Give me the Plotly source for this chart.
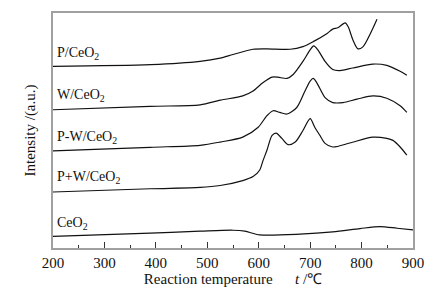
import plotly.graph_objects as go

# Temperature (°C) and intensity (a.u.)
t_p = [200, 390, 486, 525, 550, 589, 616, 661, 686, 706, 733, 744, 754, 768, 774, 783, 793, 803, 816, 830]
i_p = [184, 185.7, 189, 192.3, 196, 201.3, 201.7, 201.3, 204, 209, 217.3, 221.7, 223, 228, 224, 211, 201.7, 204, 216, 231.7]

t_w = [200, 389, 486, 525, 569, 589, 608, 626, 637, 655, 667, 686, 700, 707, 715, 729, 744, 758, 783, 822, 849, 875, 888]
i_w = [140, 143.5, 145, 149.7, 154, 159, 167.3, 173, 173, 171.7, 175.7, 189, 200.7, 204.7, 200.7, 189, 180.7, 179.7, 182.3, 186.3, 185, 179, 175]

t_pw = [200, 389, 486, 525, 569, 599, 616, 628, 641, 655, 674, 690, 700, 706, 713, 729, 744, 764, 791, 822, 849, 875, 888]
i_pw = [98.3, 102, 104, 107.3, 112.3, 122.3, 134, 139, 137.3, 135.7, 142.3, 159, 169, 171.7, 167.3, 152.3, 147.3, 147.3, 150.7, 154, 151.7, 144, 137.3]

t_ppw = [200, 389, 486, 525, 569, 589, 602, 608, 616, 626, 634, 645, 657, 671, 686, 700, 709, 719, 729, 744, 777, 822, 849, 861, 875, 888]
i_ppw = [56.7, 60, 61.3, 63.3, 68.3, 72.3, 79, 88, 99, 114, 116.3, 111, 104.7, 107.3, 119, 131, 122.3, 114, 106, 102.3, 106.3, 112.3, 111, 109, 102.3, 94]

t_ce = [200, 389, 486, 550, 573, 602, 680, 744, 797, 836, 869, 900]
i_ce = [11.7, 15, 17, 18, 17, 13.3, 14, 16.3, 19.7, 21.7, 20, 18.3]

labels = ["P/CeO<sub>2</sub>", "W/CeO<sub>2</sub>", "P-W/CeO<sub>2</sub>", "P+W/CeO<sub>2</sub>", "CeO<sub>2</sub>"]
label_y = [197, 154, 112, 71, 25]
x_ticks = [200, 300, 400, 500, 600, 700, 800, 900]

series = [(t_p, i_p), (t_w, i_w), (t_pw, i_pw), (t_ppw, i_ppw), (t_ce, i_ce)]

font_fam = "Liberation Serif, Times New Roman, serif"
fig = go.Figure()
for (tx, iy), name in zip(series, labels):
    fig.add_trace(go.Scatter(x=tx, y=iy, mode="lines", name=name,
                             line=dict(color="#111111", width=1.2, shape="spline", smoothing=0.8),
                             showlegend=False, hoverinfo="skip"))

for name, ly in zip(labels, label_y):
    fig.add_annotation(x=0.0, xref="paper", y=ly, yref="y", text=name, showarrow=False,
                       xanchor="left", yanchor="middle", xshift=2,
                       font=dict(family=font_fam, size=14, color="#111111"))

fig.update_layout(
    width=438, height=292,
    margin=dict(l=53, r=25, t=11, b=43),
    paper_bgcolor="white", plot_bgcolor="white",
    font=dict(family=font_fam, size=14, color="#111111"),
)
fig.update_xaxes(range=[200, 900], tickvals=x_ticks, ticktext=[str(v) for v in x_ticks],
                 ticks="inside", ticklen=6, tickwidth=1, tickcolor="#333333",
                 minor=dict(dtick=50, ticks="inside", ticklen=3, tickcolor="#333333", showgrid=False),
                 showline=True, linecolor="#a0a0a0", linewidth=1.5, mirror=True,
                 showgrid=False, zeroline=False,
                 tickfont=dict(family=font_fam, size=15),
                 title=dict(text="Reaction temperature      <i>t</i> /℃", standoff=0,
                            font=dict(family=font_fam, size=15)))
fig.update_yaxes(range=[0, 238], showticklabels=False, ticks="",
                 showline=True, linecolor="#a0a0a0", linewidth=1.5, mirror=True,
                 showgrid=False, zeroline=False,
                 title=dict(text="Intensity /(a.u.)", standoff=12,
                            font=dict(family=font_fam, size=15)))

fig.write_html("out.html", config={"displayModeBar": False},
               post_script="document.body.style.margin='0';document.body.style.overflow='hidden';")
